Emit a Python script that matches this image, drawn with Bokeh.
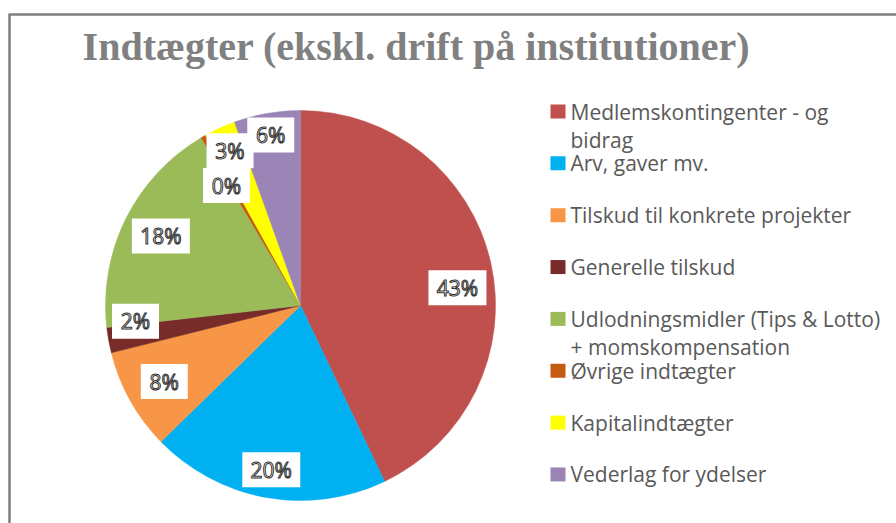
import math
from bokeh.plotting import figure
from bokeh.models import ColumnDataSource
from bokeh.core.properties import value
from bokeh.embed import file_html
from bokeh.resources import INLINE

# ---- data ----
title_text = "Indtægter (ekskl. drift på institutioner)"
categories = [
    "Medlemskontingenter - og bidrag",
    "Arv, gaver mv.",
    "Tilskud til konkrete projekter",
    "Generelle tilskud",
    "Udlodningsmidler (Tips & Lotto) + momskompensation",
    "Øvrige indtægter",
    "Kapitalindtægter",
    "Vederlag for ydelser",
]
legend_lines = [
    ["Medlemskontingenter - og", "bidrag"],
    ["Arv, gaver mv."],
    ["Tilskud til konkrete projekter"],
    ["Generelle tilskud"],
    ["Udlodningsmidler (Tips & Lotto)", "+ momskompensation"],
    ["Øvrige indtægter"],
    ["Kapitalindtægter"],
    ["Vederlag for ydelser"],
]
shares = [42.9, 19.8, 8.4, 2.1, 18.3, 0.4, 2.6, 5.5]
colors = ["#C0504D", "#00B0F0", "#F79646", "#772C2A", "#9BBB59", "#C55A11", "#FFFF00", "#9A85B6"]

# ---- layout / style ----
W, H = 896, 523
cx, cy_pix, R = 300, 305, 195
cy = H - cy_pix
label_shift_deg = [6.3, 0, 0, 4.8, 0, -1.8, 0, 0]
label_rfrac = [0.81, 0.856, 0.80, 0.85, 0.80, 0.723, 0.872, 0.887]

total = sum(shares)
starts, ends, lx, ly, ltxt, bw = [], [], [], [], [], []
cum = 0.0
for i, s in enumerate(shares):
    f0 = cum / total
    cum += s
    f1 = cum / total
    starts.append(math.pi / 2 - 2 * math.pi * f1)
    ends.append(math.pi / 2 - 2 * math.pi * f0)
    mid = (f0 + f1) / 2 * 360 + label_shift_deg[i]
    r = label_rfrac[i] * R
    lx.append(cx + r * math.sin(math.radians(mid)))
    ly.append(cy + r * math.cos(math.radians(mid)))
    t = f"{int(s / total * 100 + 0.5)}%"
    ltxt.append(t)
    bw.append(25 + 11 * len(t))

src = ColumnDataSource(dict(start=starts, end=ends, color=colors))
lab = ColumnDataSource(dict(x=lx, y=ly, text=ltxt, w=bw))

p = figure(width=W, height=H, x_range=(0, W), y_range=(0, H),
           output_backend="svg", toolbar_location=None,
           x_axis_type=None, y_axis_type=None, min_border=0)
p.grid.visible = False
p.outline_line_color = None
p.background_fill_color = "white"
p.border_fill_color = "white"

# frame
p.line(x=[8, W], y=[H - 14, H - 14], line_color="#7F7F7F", line_width=2.5)
p.line(x=[9, 9], y=[H - 14, 0], line_color="#7F7F7F", line_width=2.5)

# title
p.text(x=[416], y=[H - 46], text=[title_text], text_align="center",
       text_baseline="middle", text_font=value("Liberation Serif"),
       text_font_style="bold", text_font_size="40px", text_color="#808080")

# pie
p.wedge(x=cx, y=cy, radius=R, start_angle="start", end_angle="end",
        fill_color="color", line_color="color", line_width=0.5, source=src)

# data labels
p.rect(x="x", y="y", width="w", height=35, fill_color="white", line_color=None, source=lab)
p.text(x="x", y="y", text="text", text_align="center", text_baseline="middle",
       text_font=value("Open Sans"), text_font_size="21px",
       text_color="white", text_outline_color="#333333", source=lab)

# legend
lg_x, lg_y0, lg_dy, lg_line = 550, 111, 51.85, 28
sq_x, sq_y, tx, ty, tt = [], [], [], [], []
for i, lines in enumerate(legend_lines):
    yc = lg_y0 + i * lg_dy
    sq_x.append(lg_x + 7.5)
    sq_y.append(H - yc)
    for j, ln in enumerate(lines):
        tx.append(lg_x + 20)
        ty.append(H - (yc + j * lg_line))
        tt.append(ln)
p.rect(x=sq_x, y=sq_y, width=15, height=14, fill_color=colors, line_color=None)
p.text(x=tx, y=ty, text=tt, text_align="left", text_baseline="middle",
       text_font=value("Open Sans"), text_font_size="21px", text_color="#595959")

open("out.html", "w").write(file_html(p, INLINE))
